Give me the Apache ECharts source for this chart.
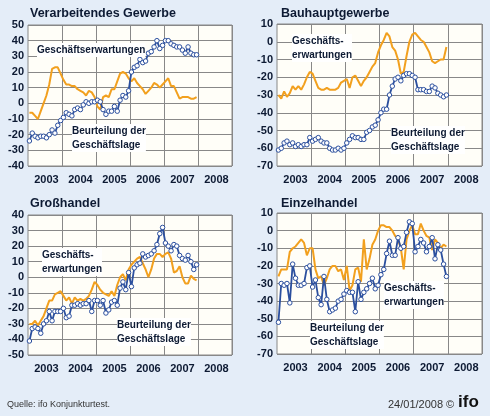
<!DOCTYPE html>
<html><head><meta charset="utf-8">
<script src="https://cdn.jsdelivr.net/npm/echarts@6/dist/echarts.min.js"></script>
<style>html,body{margin:0;padding:0;background:#e4edf8}#c{width:490px;height:416px}</style>
</head><body><div id="c"></div>
<script>
const years = ['2003','2004','2005','2006','2007','2008'];
const vgLage = [-24,-19,-21,-22,-21,-21,-22,-20,-17,-19,-14,-11, -9,-6,-7,-8,-4,-3,-4,-1,1,0,1,1, 2,1,-4,-7,-5,-5,-2,-5,2,5,4,8, 20,23,24,28,26,27,32,33,36,40,35,37, 40,40,38,37,36,36,34,32,36,32,31,31];
const vgErw = [-6,-6,-8,-10,-5,0,5,12,22,23,23,19, 15,12,12,11,11,9,8,7,5,8,7,4, -2,-4,4,5,4,9,9,14,19,20,19,16, 14,16,13,11,9,6,8,10,13,12,10,12, 14,16,11,11,7,3,4,4,4,3,3,4];
const bauLage = [-61,-60,-57,-56,-58,-57,-59,-58,-59,-58,-58,-54, -56,-55,-54,-56,-57,-57,-60,-61,-61,-60,-61,-60, -57,-55,-53,-54,-54,-55,-55,-51,-50,-48,-47,-44, -40,-38,-38,-30,-25,-21,-20,-22,-19,-18,-18,-19, -20,-27,-27,-27,-28,-28,-25,-26,-29,-30,-31,-30];
const bauErw = [-30,-32,-28,-31,-29,-25,-27,-25,-27,-24,-20,-17, -18,-22,-26,-27,-27,-26,-27,-27,-27,-26,-23,-22, -21,-26,-20,-19,-22,-25,-22,-20,-17,-14,-12,-6, -2,1,5,3,-3,-5,-10,-18,-17,-8,0,4, 5,3,1,0,-3,-6,-11,-12,-11,-10,-10,-3];
const ghLage = [-41,-33,-32,-33,-36,-30,-28,-22,-28,-22,-22,-22, -20,-26,-25,-18,-18,-17,-18,-17,-17,-15,-22,-15, -15,-18,-15,-23,-21,-16,-15,-18,-7,-3,-8,3, -6,6,8,9,15,13,14,15,17,21,28,32, 22,20,17,21,20,14,12,11,14,10,5,8];
const ghErw = [-30,-30,-28,-31,-28,-25,-20,-15,-15,-11,-10,-9, -12,-15,-13,-17,-13,-15,-14,-15,-14,-12,-8,-3, -5,-8,-10,-11,-12,-9,-12,-5,0,2,-2,5, 8,10,12,13,9,5,0,5,12,15,15,13, 15,16,12,3,4,7,0,-4,-4,1,-1,-2];
const ehLage = [-52,-30,-31,-30,-41,-19,-27,-31,-31,-30,-21,-20, -32,-28,-38,-42,-26,-39,-46,-45,-44,-40,-39,-36, -34,-35,-35,-46,-29,-39,-35,-33,-30,-27,-33,-31, -25,-22,-13,-6,-14,-14,-4,-10,-9,-1,5,4, -12,-9,-5,-7,-12,-9,-4,-16,-8,-11,-19,-26];
const ehErw = [-26,-22,-22,-22,-12,-10,-9,-7,-5,-7,-14,-10, -10,-22,-27,-26,-31,-27,-22,-20,-20,-23,-22,-28, -20,-34,-31,-22,-21,-29,-5,-22,-16,-8,-5,0, 3,3,2,2,0,-3,-5,-10,-22,-5,0,3, -2,-2,4,0,-3,-4,-11,-5,-7,-10,-8,-9];

const months = [];
years.forEach(y => { for (let m = 1; m <= 12; m++) months.push(y + '-' + m); });
const BLUE = '#2b4f9e', ORANGE = '#f2a01e', TXT = '#0d1a33';
const grids = [
  {left:28, top:25, width:204, height:141},
  {left:277, top:24, width:205, height:142},
  {left:28, top:215, width:204, height:140},
  {left:277, top:213, width:205, height:141}
];
const yr = [[-40,50],[-70,10],[-50,40],[-70,10]];
const lage = [vgLage, bauLage, ghLage, ehLage];
const erw = [vgErw, bauErw, ghErw, ehErw];
const option = {
  animation:false,
  grid: grids.map(g => Object.assign({show:true, backgroundColor:'#fffef8', borderColor:'#888', borderWidth:1}, g)),
  xAxis: grids.map((g,i) => ({
    type:'category', gridIndex:i, data:months, boundaryGap:true,
    axisLine:{show:false}, axisTick:{show:false},
    axisLabel:{interval:(idx)=>idx%12===6, formatter:v=>v.split('-')[0], color:TXT, fontWeight:'bold', fontSize:11, fontFamily:'Liberation Sans', margin:8},
    splitLine:{show:true, interval:(idx)=>idx%12===0 && idx>0, lineStyle:{color:'#888', width:1}}
  })),
  yAxis: grids.map((g,i) => ({
    type:'value', gridIndex:i, min:yr[i][0], max:yr[i][1], interval:10,
    axisLine:{show:false}, axisTick:{show:false},
    axisLabel:{color:TXT, fontWeight:'bold', fontSize:11, fontFamily:'Liberation Sans', margin:4},
    splitLine:{lineStyle:{color:'#888', width:1}}
  })),
  series: [],
  graphic: []
};
for (let i = 0; i < 4; i++) {
  option.series.push({type:'line', xAxisIndex:i, yAxisIndex:i, data:erw[i], symbol:'none', lineStyle:{color:ORANGE, width:2}, z:2});
  option.series.push({type:'line', xAxisIndex:i, yAxisIndex:i, data:lage[i], symbol:'circle', symbolSize:4.5, showAllSymbol:true, itemStyle:{color:'#fff', borderColor:BLUE, borderWidth:1}, lineStyle:{color:BLUE, width:1.8}, z:3});
}
const T = (x,y,text,size,extra) => ({type:'text', left:x, top:y, z:100, style:Object.assign({text:text, fill:TXT, font:'bold '+size+'px "Liberation Sans"', lineHeight:size+4}, extra||{})});
const W = {backgroundColor:'#fff'};
option.graphic = [
  T(30,5,'Verarbeitendes Gewerbe',12.5), T(281,5,'Bauhauptgewerbe',12.5),
  T(30,195,'Großhandel',12.5), T(281,195,'Einzelhandel',12.5),
  T(37,43,'Geschäftserwartungen',10,W),
  T(72,124,'Beurteilung der\nGeschäftslage',10,W),
  T(292,34,'Geschäfts-\nerwartungen',10,W),
  T(391,126,'Beurteilung der\nGeschäftslage',10,W),
  T(42,248,'Geschäfts-\nerwartungen',10,W),
  T(117,318,'Beurteilung der\nGeschäftslage',10,W),
  T(384,281,'Geschäfts-\nerwartungen',10,W),
  T(310,321,'Beurteilung der\nGeschäftslage',10,W),
  {type:'text', left:7, top:400, style:{text:'Quelle: ifo Konjunkturtest.', fill:'#333', font:'9px "Liberation Sans"'}},
  {type:'text', left:388, top:399, style:{text:'24/01/2008 ©', fill:'#333', font:'11px "Liberation Sans"'}},
  {type:'text', left:458, top:394, style:{text:'ifo', fill:'#111', font:'bold 17px "Liberation Sans"'}}
];
echarts.init(document.getElementById('c')).setOption(option);
</script></body></html>
